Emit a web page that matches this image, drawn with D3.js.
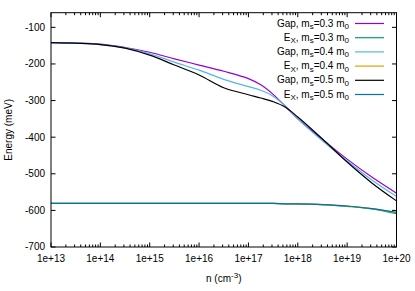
<!DOCTYPE html>
<html>
<head>
<meta charset="utf-8">
<script src="https://cdn.jsdelivr.net/npm/d3@7"></script>
<style>
  body { margin: 0; background: #fff; }
  svg { display: block; font-family: "Liberation Sans", Arial, sans-serif; }
</style>
</head>
<body>
<div id="chart"></div>
<script>
// log10 of carrier density n (cm^-3)
const nExp = [13, 14, 14.5, 15, 15.5, 16, 16.5, 17, 17.25, 17.5, 17.75, 18, 18.5, 19, 19.5, 20];

// energies in meV
const gap03 = [-142, -146, -155, -168, -186, -203, -220, -240, -257, -283, -316, -350, -406, -460, -509, -553];
const ex03  = [-581, -581, -581, -581, -581, -581, -581, -581, -581, -581, -582, -582, -584, -589, -596, -609];
const gap04 = [-142, -147, -156, -172, -195, -217, -242, -262, -272, -288, -315, -350, -410, -465, -517, -562];
const ex04  = [-581, -581, -581, -581, -581, -581, -581, -581, -581, -581, -582, -582, -584, -588, -595, -606];
const gap05 = [-142, -147, -157, -176, -203, -230, -265, -284, -293, -303, -318, -345, -405, -468, -525, -574];
const ex05  = [-581, -581, -581, -581, -581, -581, -581, -581, -581, -581, -582, -582, -584, -588, -595, -605];

const yTicks = [-700, -600, -500, -400, -300, -200, -100];
const xTicks = [13, 14, 15, 16, 17, 18, 19, 20];

// legend order = draw order
const series = [
  { kind: 'Gap', m: '0.3', values: gap03, color: '#9400d3' },
  { kind: 'EX',  m: '0.3', values: ex03,  color: '#009e73' },
  { kind: 'Gap', m: '0.4', values: gap04, color: '#56b4e9' },
  { kind: 'EX',  m: '0.4', values: ex04,  color: '#e69f00' },
  { kind: 'Gap', m: '0.5', values: gap05, color: '#000000' },
  { kind: 'EX',  m: '0.5', values: ex05,  color: '#0072b2' }
];

const W = 415, H = 291;
const margin = { top: 12.7, right: 18.5, bottom: 44, left: 51 };
const w = W - margin.left - margin.right;
const h = H - margin.top - margin.bottom;

const svg = d3.select('#chart').append('svg')
  .attr('width', W).attr('height', H);
const g = svg.append('g')
  .attr('transform', `translate(${margin.left},${margin.top})`);

const x = d3.scaleLinear().domain([13, 20]).range([0, w]);
const y = d3.scaleLinear().domain([-700, -60]).range([h, 0]);

// ticks (inward, mirrored)
const tickG = g.append('g').attr('stroke', '#000').attr('stroke-width', 1);
xTicks.forEach(t => {
  const px = x(t);
  tickG.append('line').attr('x1', px).attr('x2', px).attr('y1', h).attr('y2', h - 4.5);
  tickG.append('line').attr('x1', px).attr('x2', px).attr('y1', 0).attr('y2', 4.5);
  if (t < 20) {
    for (let k = 2; k <= 9; k++) {
      const mx = x(t + Math.log10(k));
      tickG.append('line').attr('x1', mx).attr('x2', mx).attr('y1', h).attr('y2', h - 2.5);
      tickG.append('line').attr('x1', mx).attr('x2', mx).attr('y1', 0).attr('y2', 2.5);
    }
  }
});
yTicks.forEach(t => {
  const py = y(t);
  tickG.append('line').attr('x1', 0).attr('x2', 4.5).attr('y1', py).attr('y2', py);
  tickG.append('line').attr('x1', w).attr('x2', w - 4.5).attr('y1', py).attr('y2', py);
});

// tick labels
g.append('g').selectAll('text').data(xTicks).join('text')
  .attr('x', d => x(d)).attr('y', h + 15)
  .attr('text-anchor', 'middle').attr('font-size', 10).attr('fill', '#000')
  .text(d => `1e+${d}`);
g.append('g').selectAll('text').data(yTicks).join('text')
  .attr('x', -6).attr('y', d => y(d)).attr('dy', '0.35em')
  .attr('text-anchor', 'end').attr('font-size', 10).attr('fill', '#000')
  .text(d => d);

// curves
const line = d3.line()
  .x((d, i) => x(nExp[i]))
  .y(d => y(d))
  .curve(d3.curveCatmullRom.alpha(0.5));

g.append('g').selectAll('path').data(series).join('path')
  .attr('d', d => line(d.values))
  .attr('fill', 'none')
  .attr('stroke', d => d.color)
  .attr('stroke-width', 1.2);

// border
g.append('rect').attr('width', w).attr('height', h)
  .attr('fill', 'none').attr('stroke', '#000').attr('stroke-width', 1);

// legend
const leg = svg.append('g');
series.forEach((s, i) => {
  const ly = 23.5 + i * 14.2;
  const txt = leg.append('text')
    .attr('x', 349).attr('y', ly).attr('dy', '0.3em')
    .attr('text-anchor', 'end').attr('font-size', 10).attr('fill', '#000');
  if (s.kind === 'EX') {
    txt.append('tspan').text('E');
    txt.append('tspan').attr('font-size', 8).attr('dy', 2.5).text('X');
    txt.append('tspan').attr('dy', -2.5).text(', m');
  } else {
    txt.append('tspan').text('Gap, m');
  }
  txt.append('tspan').attr('font-size', 8).attr('dy', 2.5).text('s');
  txt.append('tspan').attr('dy', -2.5).text(`=${s.m} m`);
  txt.append('tspan').attr('font-size', 8).attr('dy', 2.5).text('0');
  leg.append('line')
    .attr('x1', 355).attr('x2', 384).attr('y1', ly).attr('y2', ly)
    .attr('stroke', s.color).attr('stroke-width', 1.2);
});

// axis titles
const xl = svg.append('text')
  .attr('x', margin.left + w / 2).attr('y', 282)
  .attr('text-anchor', 'middle').attr('font-size', 10).attr('fill', '#000');
xl.append('tspan').text('n (cm');
xl.append('tspan').attr('font-size', 8).attr('dy', -4).text('-3');
xl.append('tspan').attr('dy', 4).text(')');

svg.append('text')
  .attr('transform', `translate(12,${margin.top + h / 2}) rotate(-90)`)
  .attr('text-anchor', 'middle').attr('font-size', 10).attr('fill', '#000')
  .text('Energy (meV)');
</script>
</body>
</html>
